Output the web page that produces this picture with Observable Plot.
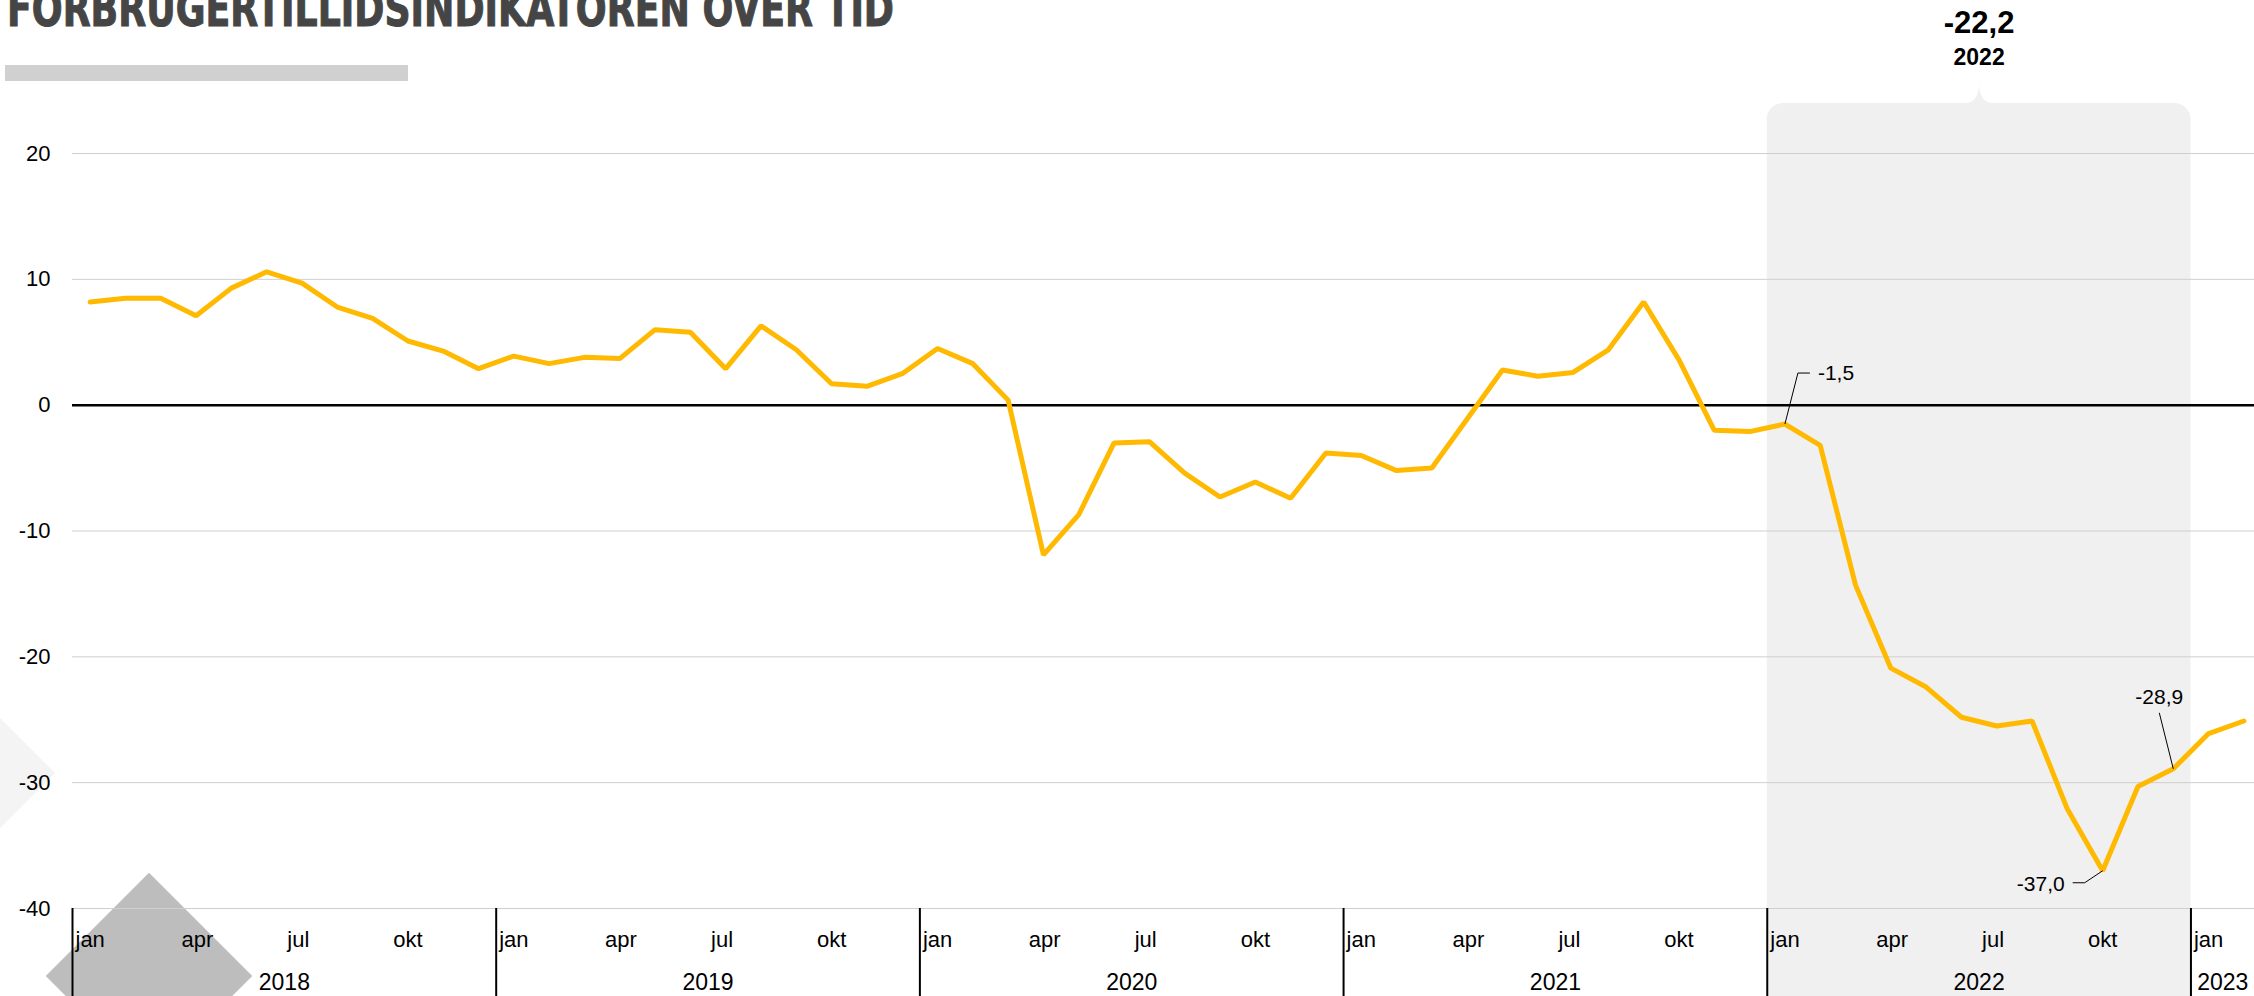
<!DOCTYPE html>
<html>
<head>
<meta charset="utf-8">
<script src="https://cdn.jsdelivr.net/npm/d3@7"></script>
<script src="https://cdn.jsdelivr.net/npm/@observablehq/plot@0.6"></script>
<style>
  html, body { margin: 0; padding: 0; background: #fff; overflow: hidden; }
  #page { position: relative; width: 2254px; height: 996px; overflow: hidden; }
  .deco { position: absolute; transform: rotate(45deg); z-index: 0; }
  #chart { position: absolute; left: 0; top: 0; z-index: 1; }
  #chart svg { background: transparent; }
  #title { position: absolute; left: 0; top: 0; z-index: 2; }
  #bar { position: absolute; left: 5px; top: 65px; width: 403px; height: 16px; background: #d0d0d0; z-index: 2; }
</style>
</head>
<body>
<div id="page">
  <div class="deco" style="left:-39px; top:734px; width:78px; height:78px; background:#f4f4f4;"></div>
  <div class="deco" style="left:76px; top:903px; width:146px; height:146px; background:#bdbdbd;"></div>
  <div id="chart"></div>
  <svg id="title" width="920" height="60">
    <text x="7" y="26" textLength="887" lengthAdjust="spacingAndGlyphs"
          font-family="'Liberation Sans Narrow', 'DejaVu Sans Condensed', 'Liberation Sans', sans-serif"
          font-weight="bold" font-size="49" fill="#454545" stroke="#454545" stroke-width="1">FORBRUGERTILLIDSINDIKATOREN OVER TID</text>
  </svg>
  <div id="bar"></div>
</div>
<script>
// Forbrugertillidsindikatoren, monthly values per year
const years = [2018, 2019, 2020, 2021, 2022, 2023];
const monthTicks = ["jan", "apr", "jul", "okt"];
const values2018 = [8.2, 8.5, 8.5, 7.1, 9.3, 10.6, 9.7, 7.8, 6.9, 5.1, 4.3, 2.9];
const values2019 = [3.9, 3.3, 3.8, 3.7, 6.0, 5.8, 2.9, 6.3, 4.4, 1.7, 1.5, 2.5];
const values2020 = [4.5, 3.3, 0.4, -11.9, -8.7, -3.0, -2.9, -5.4, -7.3, -6.1, -7.4, -3.8];
const values2021 = [-4.0, -5.2, -5.0, -1.1, 2.8, 2.3, 2.6, 4.4, 8.2, 3.6, -2.0, -2.1];
const values2022 = [-1.5, -3.2, -14.3, -20.9, -22.4, -24.8, -25.5, -25.1, -32.1, -37.0, -30.3, -28.9];
const values2023 = [-26.1, -25.1];
const yTicks = [20, 10, 0, -10, -20, -30, -40];
const highlightYear = 2022;
// Points that get a value label: [year, month]
const labelledMonths = [[2022, 1], [2022, 10], [2022, 12]];

const yearValues = [values2018, values2019, values2020, values2021, values2022, values2023];
const firstYear = years[0];
const xMax = 61.8; // visible month span (months since jan 2018)

// One row per month, positioned at mid-month on a month-index axis
const series = yearValues.flatMap((vals, k) =>
  vals.map((v, m) => ({t: (years[k] - firstYear) * 12 + m + 0.5, v, year: years[k], month: m + 1}))
);

const fmt = (v) => v.toFixed(1).replace(".", ",");

const yearStarts = years.map((y) => (y - firstYear) * 12);
const monthLabels = years.flatMap((y) =>
  monthTicks.map((name, q) => ({x: (y - firstYear) * 12 + q * 3, name}))
).filter((d) => d.x < xMax);
const yearLabels = years.map((y) => {
  const s = (y - firstYear) * 12;
  return {x: (s + Math.min(s + 12, xMax)) / 2, name: String(y)};
});

const hlStart = (highlightYear - firstYear) * 12;
const hlValues = yearValues[years.indexOf(highlightYear)];
const hlMean = d3.mean(hlValues);

const findPoint = ([y, m]) => series.find((d) => d.year === y && d.month === m);
const [pJan, pOkt, pDec] = labelledMonths.map(findPoint);

// Leader-line shapes drawn from the labelled point outward
const leader = (pts) => ({
  draw(ctx) {
    ctx.moveTo(pts[0][0], pts[0][1]);
    for (const p of pts.slice(1)) ctx.lineTo(p[0], p[1]);
  }
});
// Pointer on top of the highlighted-year panel
const notch = {
  draw(ctx) {
    ctx.moveTo(-16, 3);
    ctx.lineTo(-16, 0);
    ctx.quadraticCurveTo(0, 0, 0, -20);
    ctx.quadraticCurveTo(0, 0, 16, 0);
    ctx.lineTo(16, 3);
    ctx.closePath();
  }
};

const font = "'Liberation Sans', Arial, sans-serif";

const chart = Plot.plot({
  width: 2254,
  height: 996,
  marginLeft: 72,
  marginRight: 0,
  marginTop: 153,
  marginBottom: 88,
  style: {fontFamily: font, fontSize: "22px", color: "#000", background: "transparent"},
  x: {domain: [0, xMax], axis: null},
  y: {domain: [-40, 20], axis: null},
  marks: [
    // highlighted year panel
    Plot.rect([{x1: hlStart, x2: hlStart + 12}], {
      x1: "x1", x2: "x2", y1: -40, y2: 20,
      insetTop: -50, insetBottom: -140, rx: 16, fill: "#f0f0f0"
    }),
    Plot.dot([{x: hlStart + 6}], {x: "x", y: 20, dy: -50, symbol: notch, fill: "#f0f0f0", stroke: "none"}),
    Plot.text([{x: hlStart + 6, label: fmt(hlMean)}], {
      x: "x", y: 20, dy: -130, text: "label", fontSize: 31, fontWeight: "bold", fill: "#000"
    }),
    Plot.text([{x: hlStart + 6, label: String(highlightYear)}], {
      x: "x", y: 20, dy: -96, text: "label", fontSize: 23, fontWeight: "bold", fill: "#000"
    }),
    // grid
    Plot.ruleY(yTicks.filter((d) => d !== 0), {stroke: "#cfcfcf", strokeWidth: 1}),
    Plot.ruleY([0], {stroke: "#000", strokeWidth: 2.5}),
    Plot.axisY({
      ticks: yTicks, tickSize: 0, tickPadding: 22, fontSize: 22,
      tickFormat: (d) => String(d), label: null
    }),
    // year separators and month / year labels
    Plot.ruleX(yearStarts, {y1: -40, y2: -40, insetBottom: -100, stroke: "#000", strokeWidth: 2}),
    Plot.text(monthLabels, {x: "x", y: -40, dy: 31, dx: 3, text: "name", textAnchor: "start", fontSize: 22}),
    Plot.text(yearLabels, {x: "x", y: -40, dy: 74, text: "name", fontSize: 23}),
    // the series
    Plot.line(series, {
      x: "t", y: "v", stroke: "#ffb900", strokeWidth: 5,
      strokeLinecap: "round", strokeLinejoin: "miter"
    }),
    // value labels with leader lines
    Plot.dot([pJan], {x: "t", y: "v", symbol: leader([[0, 0], [13, -51], [25, -51]]), fill: "none", stroke: "#000", strokeWidth: 1}),
    Plot.text([pJan], {x: "t", y: "v", text: (d) => fmt(d.v), dx: 33, dy: -51, textAnchor: "start", fontSize: 21}),
    Plot.dot([pOkt], {x: "t", y: "v", symbol: leader([[0, 0], [-18, 12], [-30, 12]]), fill: "none", stroke: "#000", strokeWidth: 1}),
    Plot.text([pOkt], {x: "t", y: "v", text: (d) => fmt(d.v), dx: -38, dy: 14, textAnchor: "end", fontSize: 21}),
    Plot.dot([pDec], {x: "t", y: "v", symbol: leader([[0, 0], [-14, -56]]), fill: "none", stroke: "#000", strokeWidth: 1}),
    Plot.text([pDec], {x: "t", y: "v", text: (d) => fmt(d.v), dx: -14, dy: -72, fontSize: 21})
  ]
});

document.getElementById("chart").appendChild(chart);
</script>
</body>
</html>
